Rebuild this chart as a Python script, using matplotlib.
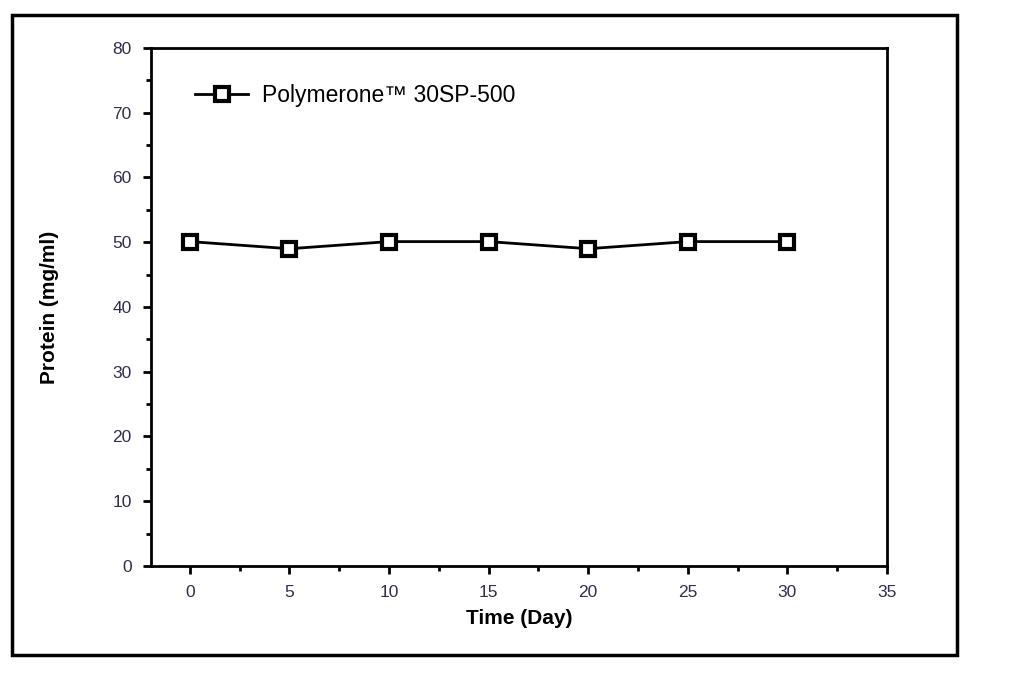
import matplotlib.pyplot as plt
from matplotlib.patches import Rectangle
from matplotlib.ticker import MultipleLocator

plt.rcParams["font.family"] = ["Liberation Sans", "DejaVu Sans"]

days = [0, 5, 10, 15, 20, 25, 30]
protein = [50.1, 49.0, 50.1, 50.1, 49.0, 50.1, 50.1]
series_name = "Polymerone\u2122 30SP-500"

tick_color = "#2e2e4e"

fig = plt.figure(figsize=(10.3, 6.73), dpi=100)
ax = fig.add_axes([0.1466, 0.159, 0.7146, 0.7697])

ax.plot(days, protein, color="black", linewidth=2, marker="s",
        markersize=10, markerfacecolor="white", markeredgecolor="black",
        markeredgewidth=3, label=series_name)

ax.set_xlim(-1.95, 35)
ax.set_ylim(0, 80)
ax.xaxis.set_major_locator(MultipleLocator(5))
ax.xaxis.set_minor_locator(MultipleLocator(2.5))
ax.yaxis.set_major_locator(MultipleLocator(10))
ax.yaxis.set_minor_locator(MultipleLocator(5))

ax.tick_params(which="major", direction="out", length=6, width=2,
               labelsize=12.5, labelcolor=tick_color, pad=8)
ax.tick_params(which="minor", direction="out", length=3.5, width=2)
for s in ax.spines.values():
    s.set_linewidth(2)

ax.set_xlabel("Time (Day)", fontsize=15, fontweight="bold", labelpad=6)
ax.set_ylabel("Protein (mg/ml)", fontsize=15, fontweight="bold", labelpad=38)

ax.legend(loc="center left", bbox_to_anchor=(0.06, 0.909), frameon=False,
          fontsize=16.5, handlelength=2.3, handletextpad=0.6,
          borderaxespad=0, borderpad=0)

# outer frame around the whole figure
fig.patches.append(Rectangle((0.0117, 0.0267), 0.9174, 0.951,
                             transform=fig.transFigure, fill=False,
                             edgecolor="black", linewidth=2.5))

fig.savefig("out.png", dpi=100, facecolor="white")
